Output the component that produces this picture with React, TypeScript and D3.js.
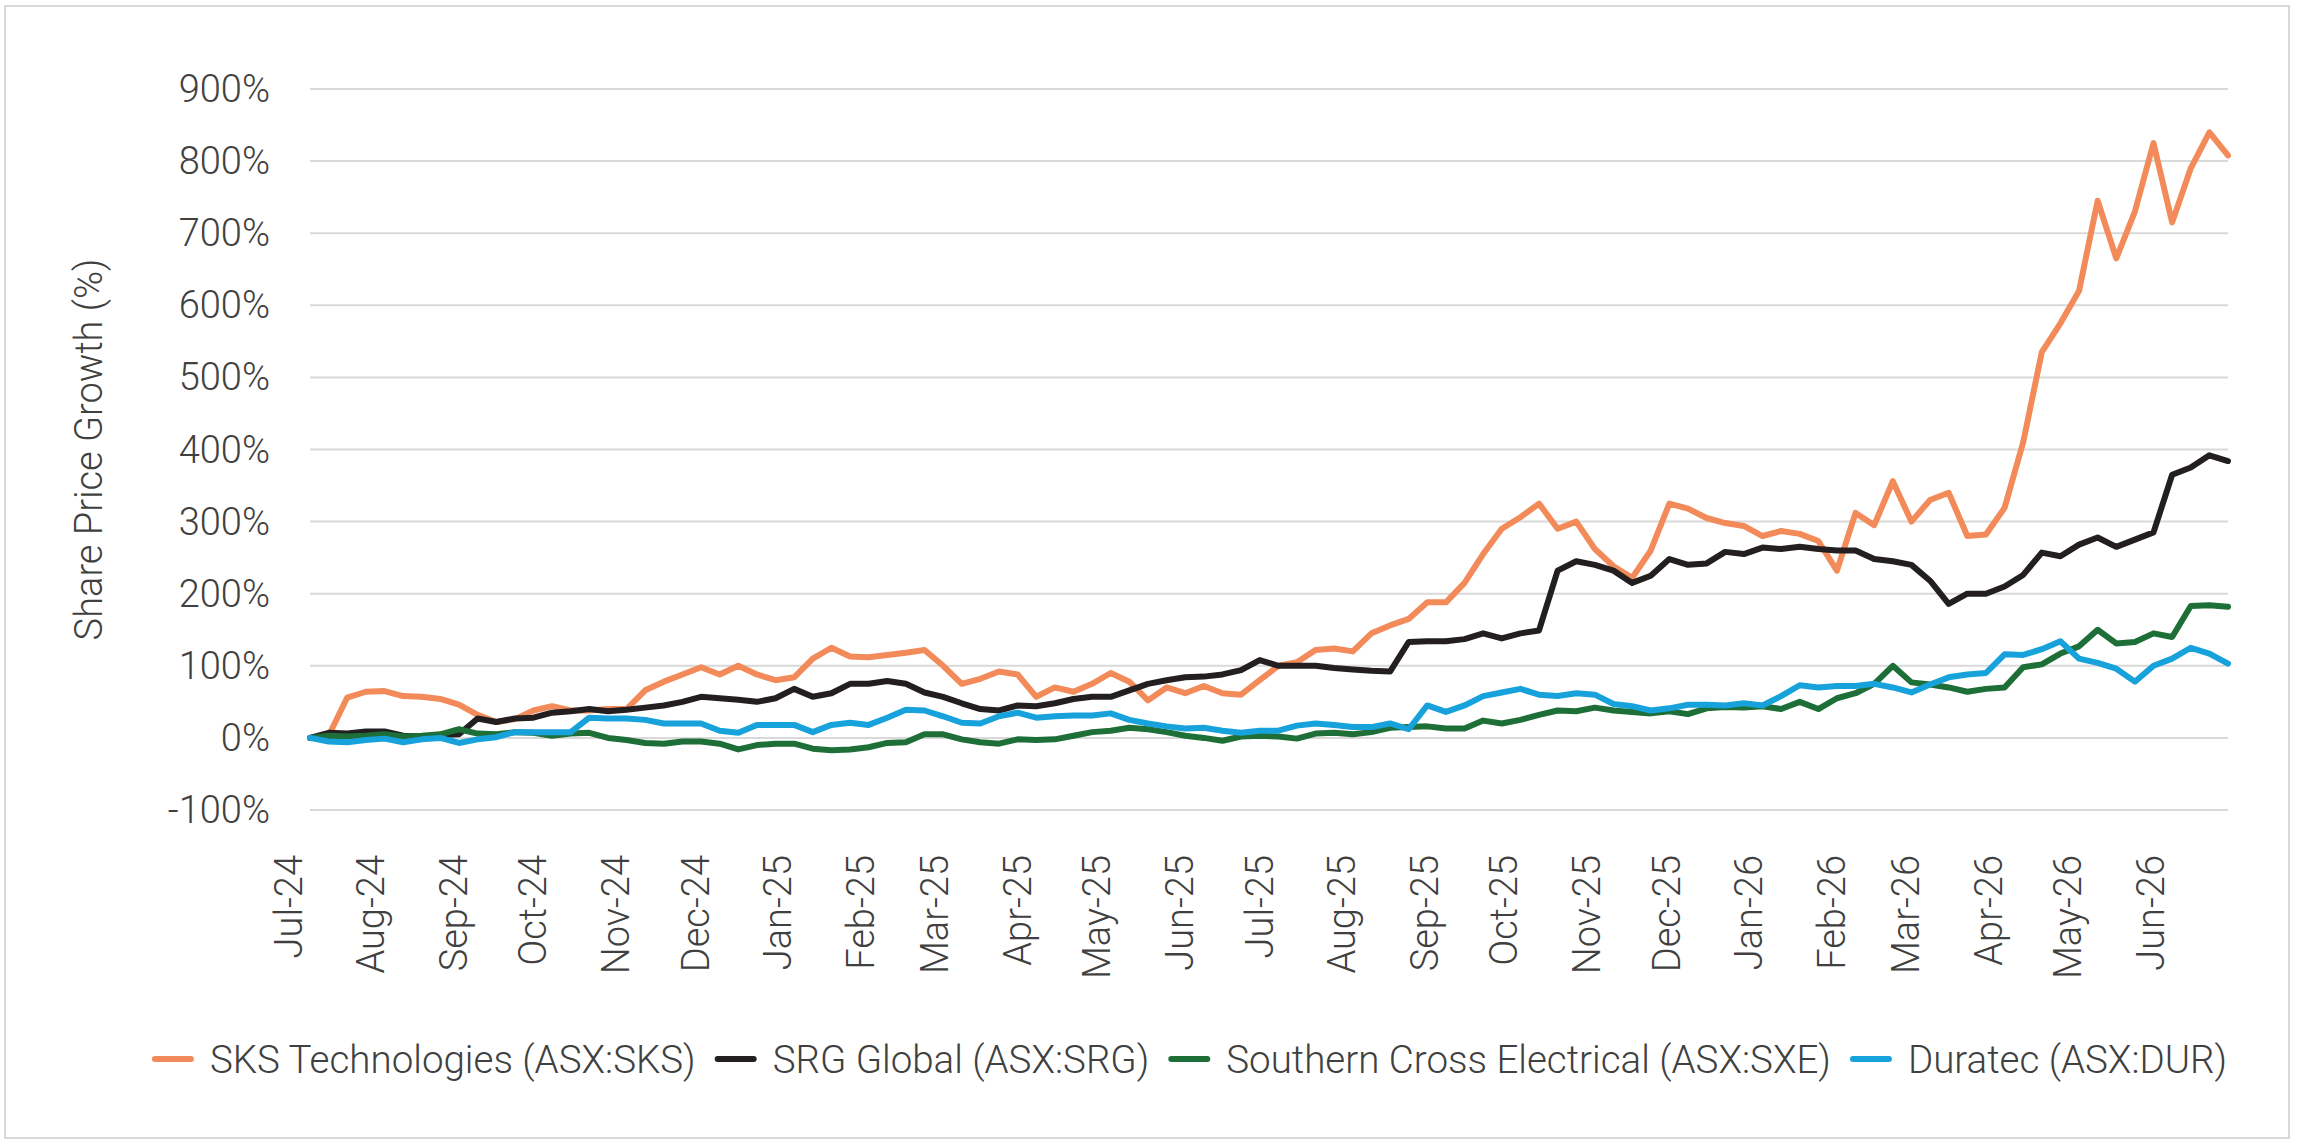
import { useLayoutEffect, useMemo, useRef, useState } from "react";
import * as d3 from "d3";

const WIDTH = 2316;
const HEIGHT = 1146;
const PLOT = { left: 310, right: 2228, top: 89, bottom: 810 };
const FONT = "Roboto, 'Noto Sans', sans-serif";
const TEXT_COLOR = "#404040";
const GRID_COLOR = "#d9d9d9";

// weekly closes, Tuesday of each week
const DATES = [
  "2024-07-09", "2024-07-16", "2024-07-23", "2024-07-30", "2024-08-06", "2024-08-13", "2024-08-20", "2024-08-27",
  "2024-09-03", "2024-09-10", "2024-09-17", "2024-09-24", "2024-10-01", "2024-10-08", "2024-10-15", "2024-10-22",
  "2024-10-29", "2024-11-05", "2024-11-12", "2024-11-19", "2024-11-26", "2024-12-03", "2024-12-10", "2024-12-17",
  "2024-12-24", "2024-12-31",
  "2025-01-07", "2025-01-14", "2025-01-21", "2025-01-28", "2025-02-04", "2025-02-11", "2025-02-18", "2025-02-25",
  "2025-03-04", "2025-03-11", "2025-03-18", "2025-03-25", "2025-04-01", "2025-04-08", "2025-04-15", "2025-04-22",
  "2025-04-29", "2025-05-06", "2025-05-13", "2025-05-20", "2025-05-27", "2025-06-03", "2025-06-10", "2025-06-17",
  "2025-06-24", "2025-07-01", "2025-07-08", "2025-07-15", "2025-07-22", "2025-07-29", "2025-08-05", "2025-08-12",
  "2025-08-19", "2025-08-26", "2025-09-02", "2025-09-09", "2025-09-16", "2025-09-23", "2025-09-30", "2025-10-07",
  "2025-10-14", "2025-10-21", "2025-10-28", "2025-11-04", "2025-11-11", "2025-11-18", "2025-11-25", "2025-12-02",
  "2025-12-09", "2025-12-16", "2025-12-23", "2025-12-30",
  "2026-01-06", "2026-01-13", "2026-01-20", "2026-01-27", "2026-02-03", "2026-02-10", "2026-02-17", "2026-02-24",
  "2026-03-03", "2026-03-10", "2026-03-17", "2026-03-24", "2026-03-31", "2026-04-07", "2026-04-14", "2026-04-21",
  "2026-04-28", "2026-05-05", "2026-05-12", "2026-05-19", "2026-05-26", "2026-06-02", "2026-06-09", "2026-06-16",
  "2026-06-23", "2026-06-30",
];

const SKS = [
  0, 3, 56, 64, 65, 58, 57, 54, 46, 32,
  22, 26, 38, 44, 38, 38, 40, 40, 66, 78,
  88, 98, 88, 100, 88, 80, 84, 110, 125, 113,
  112, 115, 118, 122, 100, 75, 82, 92, 88, 57,
  70, 64, 75, 90, 78, 52, 70, 62, 72, 62,
  60, 80, 100, 105, 122, 124, 120, 145, 156, 165,
  188, 188, 215, 255, 290, 306, 325, 290, 300, 262,
  238, 222, 260, 325, 318, 305, 298, 294, 280, 287,
  283, 273, 232, 312, 295, 356, 300, 330, 340, 280,
  282, 319, 410, 535, 575, 620, 745, 665, 730, 825,
  715, 790, 840, 808,
];

const SRG = [
  0, 7, 6, 9, 9, 3, 2, 4, 5, 27,
  22, 27, 28, 35, 37, 40, 37, 39, 42, 45,
  50, 57, 55, 53, 50, 55, 68, 57, 62, 75,
  75, 79, 75, 63, 57, 48, 40, 38, 45, 44,
  48, 54, 57, 57, 66, 75, 80, 84, 85, 88,
  94, 108, 100, 100, 100, 97, 95, 93, 92, 133,
  134, 134, 137, 145, 138, 145, 149, 232, 245, 240,
  232, 215, 225, 248, 240, 242, 258, 255, 264, 262,
  265, 262, 260, 260, 248, 245, 240, 218, 186, 200,
  200, 210, 226, 257, 252, 268, 278, 265, 275, 285,
  365, 375, 392, 384,
];

const SXE = [
  0, 3, 2, 3, 5, 2, 3, 5, 12, 6,
  5, 8, 7, 3, 6, 7, 0, -3, -7, -8,
  -5, -5, -8, -16, -10, -8, -8, -15, -17, -16,
  -13, -7, -6, 5, 5, -2, -6, -8, -2, -3,
  -2, 3, 8, 10, 14, 12, 8, 3, 0, -4,
  2, 3, 2, -1, 6, 7, 5, 8, 14, 15,
  16, 13, 13, 24, 20, 25, 32, 38, 37, 42,
  38, 36, 34, 37, 33, 41, 43, 42, 44, 40,
  50, 40, 55, 62, 75, 100, 77, 74, 70, 64,
  68, 70, 98, 102, 117, 127, 150, 131, 133, 145,
  140, 183, 184, 182,
];

const DUR = [
  0, -5, -6, -3, -1, -6, -2, 0, -7, -2,
  1, 8, 8, 8, 8, 28, 27, 27, 25, 20,
  20, 20, 10, 7, 18, 18, 18, 8, 18, 21,
  18, 28, 39, 38, 30, 21, 20, 30, 35, 28,
  30, 31, 31, 34, 25, 20, 16, 13, 14, 10,
  7, 10, 10, 17, 20, 18, 15, 15, 20, 12,
  45, 36, 45, 58, 63, 68, 60, 58, 62, 60,
  47, 44, 38, 41, 46, 46, 45, 48, 45, 58,
  73, 70, 72, 72, 75, 70, 63, 74, 84, 88,
  90, 116, 115, 123, 134, 110, 104, 96, 78, 100,
  110, 125, 117, 103,
];

const SERIES_NAMES = [
  "SKS Technologies (ASX:SKS)",
  "SRG Global (ASX:SRG)",
  "Southern Cross Electrical (ASX:SXE)",
  "Duratec (ASX:DUR)",
];
const SERIES_VALUES = [SKS, SRG, SXE, DUR];
const SERIES_COLORS = ["#f28b59", "#231f20", "#1d6f37", "#17a2dc"];

const Y_TICKS = [-100, 0, 100, 200, 300, 400, 500, 600, 700, 800, 900];
const Y_TITLE = "Share Price Growth (%)";

const LINE_WIDTH = 6;
const LEGEND_Y = 1059;
const LEGEND_CENTER = 1191;
const LEGEND_LINE = 36;
const LEGEND_TEXT_GAP = 19;
const LEGEND_ITEM_GAP = 22;

const parseDate = d3.timeParse("%Y-%m-%d");
const formatMonth = d3.timeFormat("%b-%y");

export default function App() {
  const dates = useMemo(() => DATES.map((d) => parseDate(d) as Date), []);

  const xScale = useMemo(
    () =>
      d3
        .scaleTime()
        .domain([dates[0], dates[dates.length - 1]])
        .range([PLOT.left, PLOT.right]),
    [dates]
  );

  const yScale = useMemo(
    () => d3.scaleLinear().domain([-100, 900]).range([PLOT.bottom, PLOT.top]),
    []
  );

  const monthTicks = d3.timeMonth.range(new Date(2024, 6, 1), new Date(2026, 6, 1));

  const lineGen = d3
    .line<number>()
    .x((_, i) => xScale(dates[i]))
    .y((v) => yScale(v))
    .curve(d3.curveLinear);

  // legend: measure label widths, then center the row
  const textRefs = useRef<(SVGTextElement | null)[]>([]);
  const [widths, setWidths] = useState<number[]>(SERIES_NAMES.map(() => 0));
  useLayoutEffect(() => {
    setWidths(textRefs.current.map((t) => (t ? t.getComputedTextLength() : 0)));
  }, []);

  const itemWidths = widths.map((w) => LEGEND_LINE + LEGEND_TEXT_GAP + w);
  const total =
    itemWidths.reduce((a, b) => a + b, 0) + LEGEND_ITEM_GAP * (itemWidths.length - 1);
  let cursor = LEGEND_CENTER - total / 2;
  const legendX = itemWidths.map((w) => {
    const x = cursor;
    cursor += w + LEGEND_ITEM_GAP;
    return x;
  });

  return (
    <svg
      width={WIDTH}
      height={HEIGHT}
      style={{ position: "absolute", left: 0, top: 0, background: "#fff" }}
      fontFamily={FONT}
    >
      <rect x={0} y={0} width={WIDTH} height={HEIGHT} fill="#fff" />
      <rect
        x={5}
        y={6}
        width={2284}
        height={1132}
        fill="#fff"
        stroke={GRID_COLOR}
        strokeWidth={2}
      />

      {/* gridlines + y labels */}
      {Y_TICKS.map((t) => (
        <g key={t}>
          <line
            x1={PLOT.left}
            x2={PLOT.right}
            y1={yScale(t)}
            y2={yScale(t)}
            stroke={GRID_COLOR}
            strokeWidth={2}
          />
          <text
            x={270}
            y={yScale(t)}
            textAnchor="end"
            dominantBaseline="central"
            fontSize={38}
            fontWeight={300}
            fill={TEXT_COLOR}
          >
            {`${t}%`}
          </text>
        </g>
      ))}

      <text
        transform={`translate(89, ${(PLOT.top + PLOT.bottom) / 2}) rotate(-90)`}
        textAnchor="middle"
        dominantBaseline="central"
        fontSize={38}
        fontWeight={300}
        fill={TEXT_COLOR}
      >
        {Y_TITLE}
      </text>

      {/* month labels */}
      {monthTicks.map((m) => (
        <text
          key={m.getTime()}
          transform={`translate(${xScale(m)}, 855) rotate(-90)`}
          textAnchor="end"
          dominantBaseline="central"
          fontSize={38}
          fontWeight={300}
          fill={TEXT_COLOR}
        >
          {formatMonth(m)}
        </text>
      ))}

      {/* series */}
      {SERIES_VALUES.map((vals, i) => (
        <path
          key={SERIES_NAMES[i]}
          d={lineGen(vals) ?? ""}
          fill="none"
          stroke={SERIES_COLORS[i]}
          strokeWidth={LINE_WIDTH}
          strokeLinejoin="round"
          strokeLinecap="round"
        />
      ))}

      {/* legend */}
      {SERIES_NAMES.map((name, i) => (
        <g key={name} transform={`translate(${legendX[i]}, ${LEGEND_Y})`}>
          <line
            x1={0}
            x2={LEGEND_LINE}
            y1={0}
            y2={0}
            stroke={SERIES_COLORS[i]}
            strokeWidth={LINE_WIDTH}
            strokeLinecap="round"
          />
          <text
            ref={(el) => {
              textRefs.current[i] = el;
            }}
            x={LEGEND_LINE + LEGEND_TEXT_GAP}
            y={0}
            dominantBaseline="central"
            fontSize={38.5}
            fontWeight={300}
            fill={TEXT_COLOR}
          >
            {name}
          </text>
        </g>
      ))}
    </svg>
  );
}
